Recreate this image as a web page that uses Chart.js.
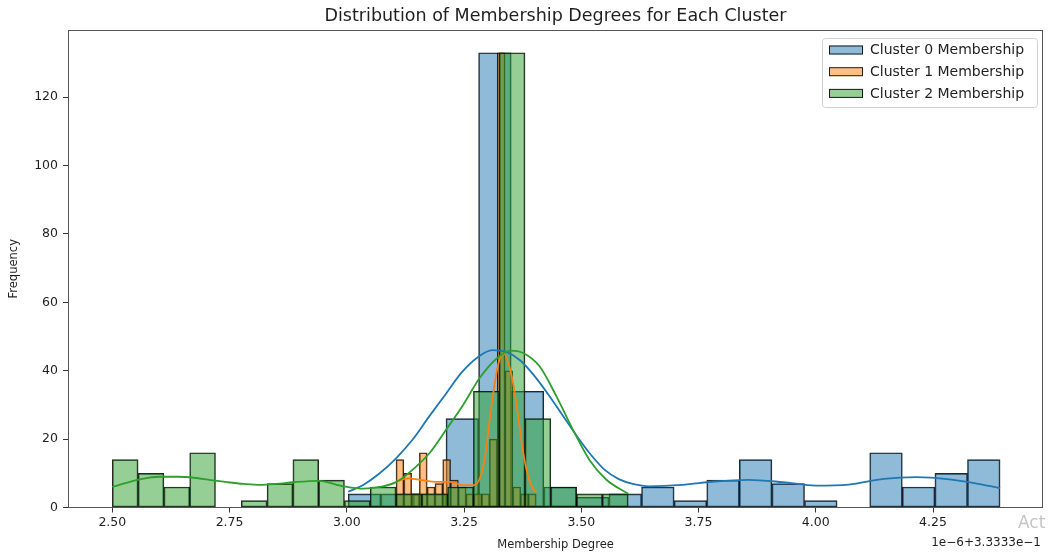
<!DOCTYPE html>
<html>
<head>
<meta charset="utf-8">
<title>Distribution of Membership Degrees for Each Cluster</title>
<script src="https://cdn.jsdelivr.net/npm/chart.js@4.4.1/dist/chart.umd.min.js"></script>
<style>
  html, body { margin: 0; padding: 0; background: #fff; }
  #wrap { width: 1049px; height: 553px; }
</style>
</head>
<body>
<div id="wrap"><canvas id="membershipChart" width="1049" height="553"></canvas></div>
<script>
// x values are in units of 1e-6 on top of 0.33333 (matplotlib offset label)
var cluster0Edges = [3.003, 3.0725, 3.142, 3.2115, 3.281, 3.3505, 3.42, 3.4895, 3.559, 3.6285, 3.698,
                     3.7675, 3.837, 3.9065, 3.976, 4.0455, 4.115, 4.1845, 4.254, 4.3235, 4.393];
var cluster0Counts = [4, 4, 4, 26, 133, 34, 6, 3, 4, 6, 2, 8, 14, 7, 2, 0, 16, 6, 10, 14];

var cluster1Edges = [3.105, 3.1216, 3.1382, 3.1548, 3.1714, 3.188, 3.2046, 3.2212, 3.2378, 3.2544,
                     3.271, 3.2876, 3.3042, 3.3208, 3.3374, 3.354, 3.3706, 3.3872, 3.4038];
var cluster1Counts = [14, 10, 4, 16, 6, 7, 14, 8, 6, 4, 4, 4, 20, 133, 40, 6, 4, 4];

var cluster2Edges = [2.5, 2.555, 2.61, 2.665, 2.72, 2.775, 2.83, 2.885, 2.94, 2.995, 3.05,
                     3.105, 3.16, 3.215, 3.27, 3.325, 3.38, 3.435, 3.49, 3.545, 3.6];
var cluster2Counts = [14, 10, 6, 16, 0, 2, 7, 14, 8, 2, 6, 4, 4, 6, 34, 133, 26, 6, 4, 4];

// kde curves
var kde0X = [3.003, 3.035, 3.07, 3.105, 3.14, 3.175, 3.21, 3.245, 3.28, 3.31, 3.34, 3.37, 3.4, 3.43,
             3.46, 3.49, 3.52, 3.55, 3.58, 3.61, 3.645, 3.715, 3.785, 3.855, 3.93, 4.0, 4.07, 4.145,
             4.215, 4.285, 4.355, 4.393];
var kde0Y = [4.6, 6.6, 10, 14.4, 19.8, 26.5, 33, 39.5, 44, 46, 45.5, 43, 38.5, 33,
             27, 21, 15.5, 11, 8.3, 6.9, 6.2, 6.6, 7.6, 8.1, 7.4, 6.4, 6.7, 8.4,
             8.9, 8.2, 6.7, 5.7];

var kde1X = [3.105, 3.13, 3.16, 3.19, 3.22, 3.25, 3.27, 3.285, 3.295, 3.305, 3.315, 3.325, 3.335,
             3.345, 3.355, 3.365, 3.375, 3.385, 3.395, 3.404];
var kde1Y = [7.5, 8.5, 8, 7.5, 7.5, 6.5, 6.5, 9, 15, 26, 36, 43, 45,
             42, 36, 27, 17, 10, 6, 4.5];

var kde2X = [2.5, 2.53, 2.558, 2.6, 2.64, 2.674, 2.71, 2.745, 2.78, 2.816, 2.85, 2.887, 2.94, 2.993,
             3.035, 3.07, 3.106, 3.14, 3.177, 3.213, 3.248, 3.284, 3.319, 3.348, 3.376, 3.411, 3.447,
             3.482, 3.517, 3.553, 3.6];
var kde2Y = [6, 7.2, 8.2, 9, 9, 8.7, 8, 7.4, 6.9, 6.6, 6.9, 7.4, 7.8, 6.2,
             5.5, 6, 7.5, 11, 16, 23, 30, 38, 43.5, 45.9, 45.2, 41.3, 32.5,
             22.8, 14, 8.2, 4];

var xTicks = [2.5, 2.75, 3.0, 3.25, 3.5, 3.75, 4.0, 4.25];
var yTicks = [0, 20, 40, 60, 80, 100, 120];
var labels = ['Cluster 0 Membership', 'Cluster 1 Membership', 'Cluster 2 Membership'];
var lineColors = ['#1f77b4', '#ff7f0e', '#2ca02c'];
var fillColors = ['rgba(31,119,180,0.5)', 'rgba(255,127,14,0.5)', 'rgba(44,160,44,0.5)'];

var xMin = 2.4055, xMax = 4.4845, yMax = 139.65;
var FONT = 'DejaVu Sans';
var TEXT = '#1f1f1f';
var EDGE = 'rgba(0,0,0,0.85)';

function histPoints(edges, counts) {
  var pts = [];
  for (var i = 0; i < counts.length; i++) {
    pts.push({ x: (edges[i] + edges[i + 1]) / 2, y: counts[i] });
  }
  return pts;
}
function curvePoints(xs, ys) {
  return xs.map(function (x, i) { return { x: x, y: ys[i] }; });
}
function barSet(i, edges, counts, axis) {
  return {
    type: 'bar', label: labels[i], data: histPoints(edges, counts), xAxisID: axis,
    backgroundColor: fillColors[i], borderColor: EDGE, borderWidth: 1,
    borderSkipped: false, grouped: false, barPercentage: 1, categoryPercentage: 1, order: 6 - i
  };
}
function kdeSet(i, xs, ys) {
  return {
    type: 'line', label: labels[i] + ' kde', data: curvePoints(xs, ys), xAxisID: 'x',
    borderColor: lineColors[i], borderWidth: 1.8, pointRadius: 0, fill: false,
    cubicInterpolationMode: 'monotone', order: 3 - i
  };
}
function hiddenX() {
  return { type: 'linear', display: false, min: xMin, max: xMax, offset: false };
}

var frameAndLegend = {
  id: 'frameAndLegend',
  afterDatasetsDraw: function (chart) {
    var ctx = chart.ctx, a = chart.chartArea;
    ctx.save();
    ctx.strokeStyle = '#555';
    ctx.lineWidth = 1;
    ctx.strokeRect(Math.round(a.left) + 0.5, Math.round(a.top) + 0.5,
                   Math.round(a.right - a.left) - 1, Math.round(a.bottom - a.top) - 1);

    // title, centred over the plot area
    ctx.fillStyle = TEXT;
    ctx.textAlign = 'center';
    ctx.textBaseline = 'middle';
    ctx.font = '17.5px "' + FONT + '"';
    ctx.fillText('Distribution of Membership Degrees for Each Cluster', (a.left + a.right) / 2, 16);

    // legend box, upper right
    var bw = 215, bh = 69;
    var bx = a.right - 6 - bw, by = a.top + 8;
    ctx.fillStyle = 'rgba(255,255,255,0.8)';
    ctx.strokeStyle = '#d0d0d0';
    ctx.beginPath();
    ctx.roundRect(bx + 0.5, by + 0.5, bw, bh, 3);
    ctx.fill();
    ctx.stroke();
    ctx.font = '14px "' + FONT + '"';
    ctx.textAlign = 'left';
    for (var i = 0; i < 3; i++) {
      var cy = by + 12 + i * 21.7;
      ctx.fillStyle = fillColors[i];
      ctx.fillRect(bx + 7, cy - 4.5, 34, 9);
      ctx.strokeStyle = EDGE;
      ctx.strokeRect(bx + 7.5, cy - 4, 33, 8);
      ctx.fillStyle = TEXT;
      ctx.fillText(labels[i], bx + 48, cy + 0.5);
    }

    // offset text of the x axis
    ctx.textAlign = 'right';
    ctx.font = '12px "' + FONT + '"';
    ctx.fillText('1e\u22126+3.3333e\u22121', a.right - 2, 543);
    ctx.fillStyle = '#c4c4c4';
    ctx.textAlign = 'left';
    ctx.font = '17px "' + FONT + '"';
    ctx.fillText('Act', 1018, 524);
    ctx.restore();
  }
};

var ctx = document.getElementById('membershipChart').getContext('2d');
var membershipChart = new Chart(ctx, {
  type: 'bar',
  data: {
    datasets: [
      barSet(0, cluster0Edges, cluster0Counts, 'x'),
      barSet(1, cluster1Edges, cluster1Counts, 'x1'),
      barSet(2, cluster2Edges, cluster2Counts, 'x2'),
      kdeSet(0, kde0X, kde0Y),
      kdeSet(1, kde1X, kde1Y),
      kdeSet(2, kde2X, kde2Y)
    ]
  },
  options: {
    responsive: false,
    animation: false,
    devicePixelRatio: 1,
    layout: { padding: { left: 0, right: 6, top: 30, bottom: 0 } },
    plugins: {
      legend: { display: false },
      tooltip: { enabled: false },
      title: { display: false }
    },
    scales: {
      x: {
        type: 'linear', min: xMin, max: xMax, offset: false,
        border: { display: false },
        grid: { display: true, drawOnChartArea: false, drawTicks: true, tickLength: 5, tickColor: '#333', offset: false },
        afterBuildTicks: function (s) { s.ticks = xTicks.map(function (v) { return { value: v }; }); },
        afterFit: function (s) { s.height = 45.5; },
        ticks: {
          color: TEXT, padding: 3, maxRotation: 0, autoSkip: false,
          font: { family: FONT, size: 12.5 },
          callback: function (v) { return Number(v).toFixed(2); }
        },
        title: {
          display: true, text: 'Membership Degree', color: TEXT,
          font: { family: FONT, size: 11.5 }, padding: { top: 0, bottom: 1 }
        }
      },
      x1: hiddenX(),
      x2: hiddenX(),
      y: {
        type: 'linear', min: 0, max: yMax,
        border: { display: false },
        grid: { display: true, drawOnChartArea: false, drawTicks: true, tickLength: 5, tickColor: '#333' },
        afterBuildTicks: function (s) { s.ticks = yTicks.map(function (v) { return { value: v }; }); },
        afterFit: function (s) { s.width = 68; },
        ticks: { color: TEXT, padding: 5, font: { family: FONT, size: 12.5 } },
        title: {
          display: true, text: 'Frequency', color: TEXT,
          font: { family: FONT, size: 11.5 }, padding: { top: 7, bottom: 0 }
        }
      }
    }
  },
  plugins: [frameAndLegend]
});
</script>
</body>
</html>
